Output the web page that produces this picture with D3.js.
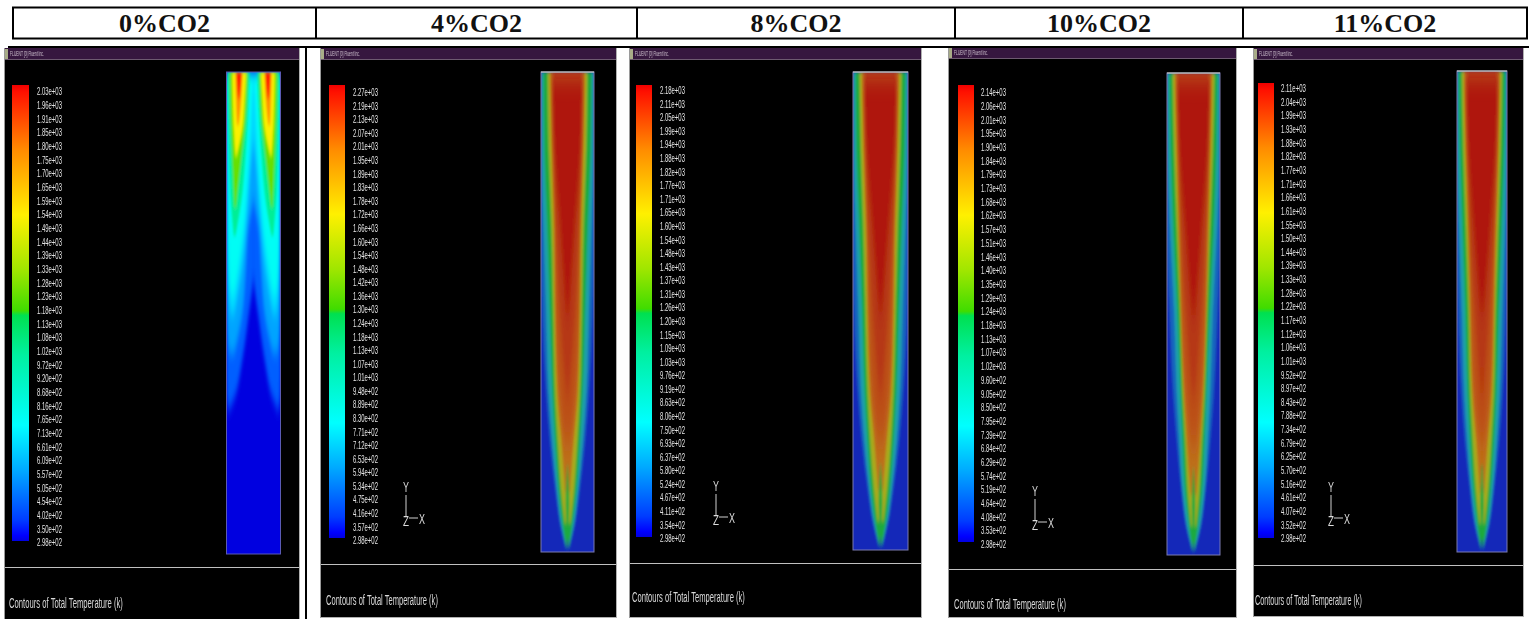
<!DOCTYPE html>
<html>
<head>
<meta charset="utf-8">
<script src="https://cdn.jsdelivr.net/npm/d3@7"></script>
<style>
body { margin: 0; background: #fff; }
svg { display: block; }
.head { font: bold 26px "Liberation Serif", serif; fill: #111; text-anchor: middle; }
.y.axis text { font-family: "Liberation Sans", sans-serif; font-size: 11.5px; fill: #e4e4e4; }
.caption { font: 15px "Liberation Sans", sans-serif; fill: #d8d8d8; }
.bar-title { font: 7px "Liberation Sans", sans-serif; fill: #d0c4d0; }
.triad { font: 14px "Liberation Sans", sans-serif; fill: #dcdcdc; }
</style>
</head>
<body>
<script>
const headers = ['0%CO2', '4%CO2', '8%CO2', '10%CO2', '11%CO2'];

const labels0 = ['2.03e+03','1.96e+03','1.91e+03','1.85e+03','1.80e+03','1.75e+03','1.70e+03','1.65e+03','1.59e+03','1.54e+03','1.49e+03','1.44e+03','1.39e+03','1.33e+03','1.28e+03','1.23e+03','1.18e+03','1.13e+03','1.08e+03','1.02e+03','9.72e+02','9.20e+02','8.68e+02','8.16e+02','7.65e+02','7.13e+02','6.61e+02','6.09e+02','5.57e+02','5.05e+02','4.54e+02','4.02e+02','3.50e+02','2.98e+02'];
const labels1 = ['2.27e+03','2.19e+03','2.13e+03','2.07e+03','2.01e+03','1.95e+03','1.89e+03','1.83e+03','1.78e+03','1.72e+03','1.66e+03','1.60e+03','1.54e+03','1.48e+03','1.42e+03','1.36e+03','1.30e+03','1.24e+03','1.18e+03','1.13e+03','1.07e+03','1.01e+03','9.48e+02','8.89e+02','8.30e+02','7.71e+02','7.12e+02','6.53e+02','5.94e+02','5.34e+02','4.75e+02','4.16e+02','3.57e+02','2.98e+02'];
const labels2 = ['2.18e+03','2.11e+03','2.05e+03','1.99e+03','1.94e+03','1.88e+03','1.82e+03','1.77e+03','1.71e+03','1.65e+03','1.60e+03','1.54e+03','1.48e+03','1.43e+03','1.37e+03','1.31e+03','1.26e+03','1.20e+03','1.15e+03','1.09e+03','1.03e+03','9.76e+02','9.19e+02','8.63e+02','8.06e+02','7.50e+02','6.93e+02','6.37e+02','5.80e+02','5.24e+02','4.67e+02','4.11e+02','3.54e+02','2.98e+02'];
const labels3 = ['2.14e+03','2.06e+03','2.01e+03','1.95e+03','1.90e+03','1.84e+03','1.79e+03','1.73e+03','1.68e+03','1.62e+03','1.57e+03','1.51e+03','1.46e+03','1.40e+03','1.35e+03','1.29e+03','1.24e+03','1.18e+03','1.13e+03','1.07e+03','1.02e+03','9.60e+02','9.05e+02','8.50e+02','7.95e+02','7.39e+02','6.84e+02','6.29e+02','5.74e+02','5.19e+02','4.64e+02','4.08e+02','3.53e+02','2.98e+02'];
const labels4 = ['2.11e+03','2.04e+03','1.99e+03','1.93e+03','1.88e+03','1.82e+03','1.77e+03','1.71e+03','1.66e+03','1.61e+03','1.55e+03','1.50e+03','1.44e+03','1.39e+03','1.33e+03','1.28e+03','1.22e+03','1.17e+03','1.12e+03','1.06e+03','1.01e+03','9.52e+02','8.97e+02','8.43e+02','7.88e+02','7.34e+02','6.79e+02','6.25e+02','5.70e+02','5.16e+02','4.61e+02','4.07e+02','3.52e+02','2.98e+02'];

// legend colours, t = 0 bottom of the bar, t = 1 top
const jetT = [0, .012, .046, .156, .254, .408, .495, .505, .594, .715, .857, .985, 1];
const jetC = ['#0000e0','#0000ff','#003cff','#00aaff','#00ffff','#00f0a0','#00e050','#40dc00','#a0e600','#fff000','#ff8c00','#ff1000','#f00000'];

// the washed out colours of the four flame fields
const flameT = [0, .16, .26, .42, .62, .74, .82, .88, .95];
const flameC = ['#1428b9','#1964be','#1ea0aa','#1eaa3c','#aaaa1e','#be701a','#bc5014','#b63712','#af190f'];

// 0%CO2 field: temperature, axial stations, inner radius, outer radius
const cold = [
  [.08, [0,.2,.41,.51,.6,.68,.7], [0,0,0,.2,.43,.74,.9], [1,1,1,1,1,.98,.92]],
  [.15, [0,.25,.32,.41,.51,.58], [0,0,.2,.3,.45,.72], [1,1,1,1,.98,.9]],
  [.21, [0,.12,.2,.3,.41,.5], [0,0,.12,.25,.45,.72], [1,.99,.98,.97,.95,.86]],
  [.27, [0,.05,.1,.2,.3,.38,.46], [0,.06,.1,.2,.33,.5,.72], [1,1,.99,.97,.95,.92,.85]],
  [.42, [0,.1,.2,.25,.34], [.15,.22,.34,.42,.68], [.95,.92,.88,.85,.72]],
  [.54, [0,.1,.18,.28], [.22,.3,.46,.66], [.88,.84,.78,.7]],
  [.71, [0,.06,.114,.176], [.28,.34,.41,.64], [.78,.76,.73,.66]],
  [.85, [0,.04,.07,.11], [.41,.44,.48,.56], [.66,.65,.63,.6]],
  [.97, [0,.03,.055], [.44,.48,.53], [.63,.6,.56]]
];

// flame fields: half width of each contour at the axial stations
const flameZ = [0, .16, .32, .5, .67, .77, .875, .94, .99];
const levelT = [.16, .26, .42, .62, .74, .82, .88, .95];
const flame1 = [
  [1,1,1,.95,.8,.66,.45,.29,.08],
  [1,.98,.9,.8,.7,.57,.39,.25,.06],
  [.9,.87,.76,.66,.56,.46,.32,.18,.04],
  [.74,.7,.6,.53,.46,.36,.23,.1],
  [.64,.58,.48,.44,.37,.22,.08],
  [.6,.54,.46,.42,.3,.1],
  [.58,.52,.42,.28,.06],
  [.55,.48,.26,.05]
];
const flame2 = [
  [1,1,1,.96,.82,.68,.46,.29,.08],
  [1,.98,.9,.8,.7,.58,.4,.25,.06],
  [.9,.87,.77,.66,.57,.47,.33,.19,.04],
  [.76,.71,.62,.54,.46,.37,.23,.1],
  [.66,.6,.5,.45,.37,.22,.08],
  [.62,.56,.48,.42,.3,.1],
  [.6,.54,.44,.28,.06],
  [.57,.5,.28,.05]
];
const flame3 = [
  [1,1,1,.9,.76,.62,.44,.29,.06],
  [1,.98,.88,.72,.62,.52,.4,.25,.05],
  [.9,.86,.76,.6,.48,.4,.3,.16,.03],
  [.78,.72,.62,.5,.4,.3,.2,.09],
  [.68,.62,.54,.45,.34,.24,.1],
  [.65,.58,.5,.42,.28,.1],
  [.62,.56,.46,.28,.06],
  [.6,.52,.3,.06]
];
const flame4 = [
  [1,1,1,.95,.82,.68,.47,.31,.08],
  [1,1,.92,.8,.7,.58,.42,.27,.06],
  [.92,.88,.78,.66,.57,.47,.33,.19,.04],
  [.8,.74,.64,.53,.46,.36,.23,.1],
  [.7,.64,.54,.45,.37,.22,.08],
  [.66,.6,.5,.42,.3,.1],
  [.64,.58,.48,.28,.06],
  [.62,.54,.32,.06]
];
// green core and blue notch at the burner end of each flame
const coreZ = [.82, .9, .95], coreR = [0, .06, .03];
const notchZ = [.975, .99, 1], notchR = [0, .025, .05];

const panels = [
  { labels: labels0, box: [5, 48, 294, 571], sep: 567, field: [226.5, 72, 54, 482], bar: [12, 85, 17, 456], ticks: [37, 91, 542], cap: [9, 608, 114], foot: false },
  { labels: labels1, box: [321, 48, 295, 570], sep: 564, field: [541, 72, 53, 480], bar: [329, 85, 16, 453], ticks: [353, 92, 540], cap: [326, 605, 112], triad: [406, 518], foot: true, flame: flame1 },
  { labels: labels2, box: [630, 48, 291, 570], sep: 563, field: [853, 72, 55, 478], bar: [636, 85, 16, 452], ticks: [660, 90, 538], cap: [632, 602, 113], triad: [716, 517], foot: true, flame: flame2 },
  { labels: labels3, box: [949, 47, 287, 571], sep: 569, field: [1167, 73, 53, 482], bar: [958, 85, 16, 457], ticks: [981, 92, 544], cap: [954, 609, 112], triad: [1035, 522], foot: true, flame: flame3 },
  { labels: labels4, box: [1254, 48, 269, 569], sep: 565, field: [1457, 71, 50, 481], bar: [1258, 83, 16, 455], ticks: [1281, 88, 538], cap: [1255, 605, 107], triad: [1331, 518], foot: true, flame: flame4 }
];
const headerEdges = [13, 316, 637, 955, 1243, 1527];

const svg = d3.select('body').append('svg')
  .attr('width', 1529)
  .attr('height', 619);

const defs = svg.append('defs');

function blur(id, dev) {
  defs.append('filter').attr('id', id)
    .attr('x', '-20%').attr('y', '-20%').attr('width', '140%').attr('height', '140%')
    .append('feGaussianBlur').attr('stdDeviation', dev);
}
blur('soft', '0.9 2');
blur('mid', '1.6 7');
blur('softer', '1.6 14');
blur('hazy', 0.3);

const grad = defs.append('linearGradient').attr('id', 'jet')
  .attr('x1', 0).attr('y1', 1).attr('x2', 0).attr('y2', 0);
jetT.forEach((t, i) => grad.append('stop').attr('offset', t).attr('stop-color', jetC[i]));

const jet = d3.scaleLinear().domain(jetT).range(jetC);
const flameColor = d3.scaleLinear().domain(flameT).range(flameC);

// squeeze a text to the narrow look of the screenshot
function squeeze(sel, w, px, py) {
  sel.each(function() {
    const sx = w / this.getComputedTextLength();
    const move = px === undefined ? '' : `translate(${px}, ${py}) `;
    d3.select(this).attr('transform', `${move}scale(${sx}, 1)`);
  });
}

// header table
const head = svg.append('g');
head.append('rect')
  .attr('x', headerEdges[0]).attr('y', 7.5)
  .attr('width', headerEdges[5] - headerEdges[0]).attr('height', 31)
  .attr('fill', '#fff').attr('stroke', '#000').attr('stroke-width', 2);
head.selectAll('line.col').data(headerEdges.slice(1, 5)).enter().append('line')
  .attr('class', 'col')
  .attr('x1', d => d).attr('x2', d => d).attr('y1', 7).attr('y2', 39)
  .attr('stroke', '#000').attr('stroke-width', 2);
head.selectAll('text').data(headers).enter().append('text')
  .attr('class', 'head')
  .attr('x', (d, i) => (headerEdges[i] + headerEdges[i + 1]) / 2)
  .attr('y', 32)
  .text(d => d);

function drawField(g, p, i) {
  const [fx, fy, fw, fh] = p.field;
  const x = d3.scaleLinear().domain([-1, 1]).range([fx, fx + fw]);
  const y = d3.scaleLinear().domain([0, 1]).range([fy, fy + fh]);
  const color = p.flame ? flameColor : jet;

  defs.append('clipPath').attr('id', `field-${i}`)
    .append('rect').attr('x', fx).attr('y', fy).attr('width', fw).attr('height', fh);

  const clip = g.append('g').attr('clip-path', `url(#field-${i})`);
  clip.append('rect')
    .attr('x', fx).attr('y', fy).attr('width', fw).attr('height', fh)
    .attr('fill', color(0));
  const under = clip.append('g').attr('filter', 'url(#mid)');
  const inner = clip.append('g').attr('filter', 'url(#soft)');
  const core = clip.append('g').attr('filter', 'url(#softer)');

  const contours = p.flame
    ? p.flame.map((r, j) => [levelT[j], flameZ.slice(0, r.length), r.map(() => 0), r])
        .concat([[.42, coreZ, coreR.map(() => 0), coreR], [0, notchZ, notchR.map(() => 0), notchR]])
    : cold;

  contours.forEach(([t, zs, r0, r1]) => {
    // the hot core of a flame and the cool part of the 0% field fade gradually
    let target = inner;
    if (p.flame && t > .78) target = core;
    if (!p.flame && t < .3) target = under;
    const pts = zs.map((z, k) => ({ z: z, a: r0[k], b: r1[k] }));
    [-1, 1].forEach(side => {
      const area = d3.area()
        .curve(d3.curveMonotoneY)
        .x0(d => x(side * d.a))
        .x1(d => x(side * d.b))
        .y(d => y(d.z));
      target.append('path')
        .attr('d', area(pts))
        .attr('fill', color(t))
        .attr('stroke', color(t))
        .attr('stroke-width', 0.4);
    });
  });

  g.append('rect')
    .attr('x', fx).attr('y', fy).attr('width', fw).attr('height', fh)
    .attr('fill', 'none')
    .attr('stroke', p.flame ? '#7a7ab0' : '#5a5ab4')
    .attr('stroke-width', 1);
  if (p.flame) {
    g.append('line')
      .attr('x1', fx).attr('x2', fx + fw).attr('y1', fy).attr('y2', fy)
      .attr('stroke', '#d8e0d0').attr('stroke-width', 1);
  }
}

panels.forEach((p, i) => {
  const [bx, by, bw, bh] = p.box;
  const g = svg.append('g').attr('class', 'panel');

  g.append('rect')
    .attr('x', bx).attr('y', by).attr('width', bw).attr('height', bh)
    .attr('fill', '#000');

  // window frame
  g.append('rect').attr('x', bx - 1).attr('y', by).attr('width', 1).attr('height', bh).attr('fill', '#9a9a9a');
  g.append('rect').attr('x', bx + bw).attr('y', by).attr('width', 1).attr('height', bh).attr('fill', '#b0b0b0');
  if (p.foot) {
    g.append('rect').attr('x', bx).attr('y', by + bh - 1).attr('width', bw).attr('height', 1).attr('fill', '#b0b0b0');
  }

  // title bar
  g.append('rect')
    .attr('x', bx).attr('y', by).attr('width', bw).attr('height', 12)
    .attr('fill', '#36173f');
  g.append('rect')
    .attr('x', bx).attr('y', by + 11).attr('width', bw).attr('height', 1)
    .attr('fill', '#6d5a70');
  g.append('rect')
    .attr('x', bx).attr('y', by + 1).attr('width', 3).attr('height', 10)
    .attr('fill', '#a8ac88');
  g.append('text')
    .attr('class', 'bar-title')
    .attr('filter', 'url(#hazy)')
    .text('FLUENT [0] Fluent Inc.')
    .call(squeeze, 34, bx + 5, by + 8);

  drawField(g, p, i);

  // colour bar
  const [lx, ly, lw, lh] = p.bar;
  g.append('rect')
    .attr('x', lx).attr('y', ly).attr('width', lw).attr('height', lh)
    .attr('fill', 'url(#jet)');

  const [tx, t0, t1] = p.ticks;
  const tickY = d3.scalePoint().domain(p.labels).range([t0, t1]);
  const yAxis = g.append('g')
    .attr('class', 'y axis')
    .attr('transform', `translate(${tx}, 0)`)
    .attr('filter', 'url(#hazy)')
    .call(d3.axisRight(tickY).tickSize(0).tickPadding(0));
  yAxis.select('.domain').remove();
  yAxis.selectAll('text').call(squeeze, 25);

  // separator and caption
  g.append('line')
    .attr('x1', bx).attr('x2', bx + bw).attr('y1', p.sep + 0.5).attr('y2', p.sep + 0.5)
    .attr('stroke', '#c0c0c0').attr('stroke-width', 1);
  g.append('text')
    .attr('class', 'caption')
    .attr('filter', 'url(#hazy)')
    .text('Contours of Total Temperature (k)')
    .call(squeeze, p.cap[2], p.cap[0], p.cap[1]);

  // axis triad
  if (p.triad) {
    const [ax, ay] = p.triad;
    const tr = g.append('g').attr('filter', 'url(#hazy)');
    tr.append('line').attr('x1', ax).attr('x2', ax).attr('y1', ay - 23).attr('y2', ay - 2).attr('stroke', '#d0d0d0');
    tr.append('line').attr('x1', ax + 3).attr('x2', ax + 12).attr('y1', ay).attr('y2', ay).attr('stroke', '#d0d0d0');
    tr.append('text').attr('class', 'triad').text('Y').call(squeeze, 6, ax - 3, ay - 26);
    tr.append('text').attr('class', 'triad').text('Z').call(squeeze, 6, ax - 3, ay + 8);
    tr.append('text').attr('class', 'triad').text('X').call(squeeze, 6, ax + 13, ay + 6);
  }
});

// rules between the header row and the panels
svg.append('line')
  .attr('x1', 8).attr('x2', 1529).attr('y1', 47).attr('y2', 47)
  .attr('stroke', '#000').attr('stroke-width', 2);
svg.append('line')
  .attr('x1', 306).attr('x2', 306).attr('y1', 47).attr('y2', 619)
  .attr('stroke', '#000').attr('stroke-width', 2);
</script>
</body>
</html>
